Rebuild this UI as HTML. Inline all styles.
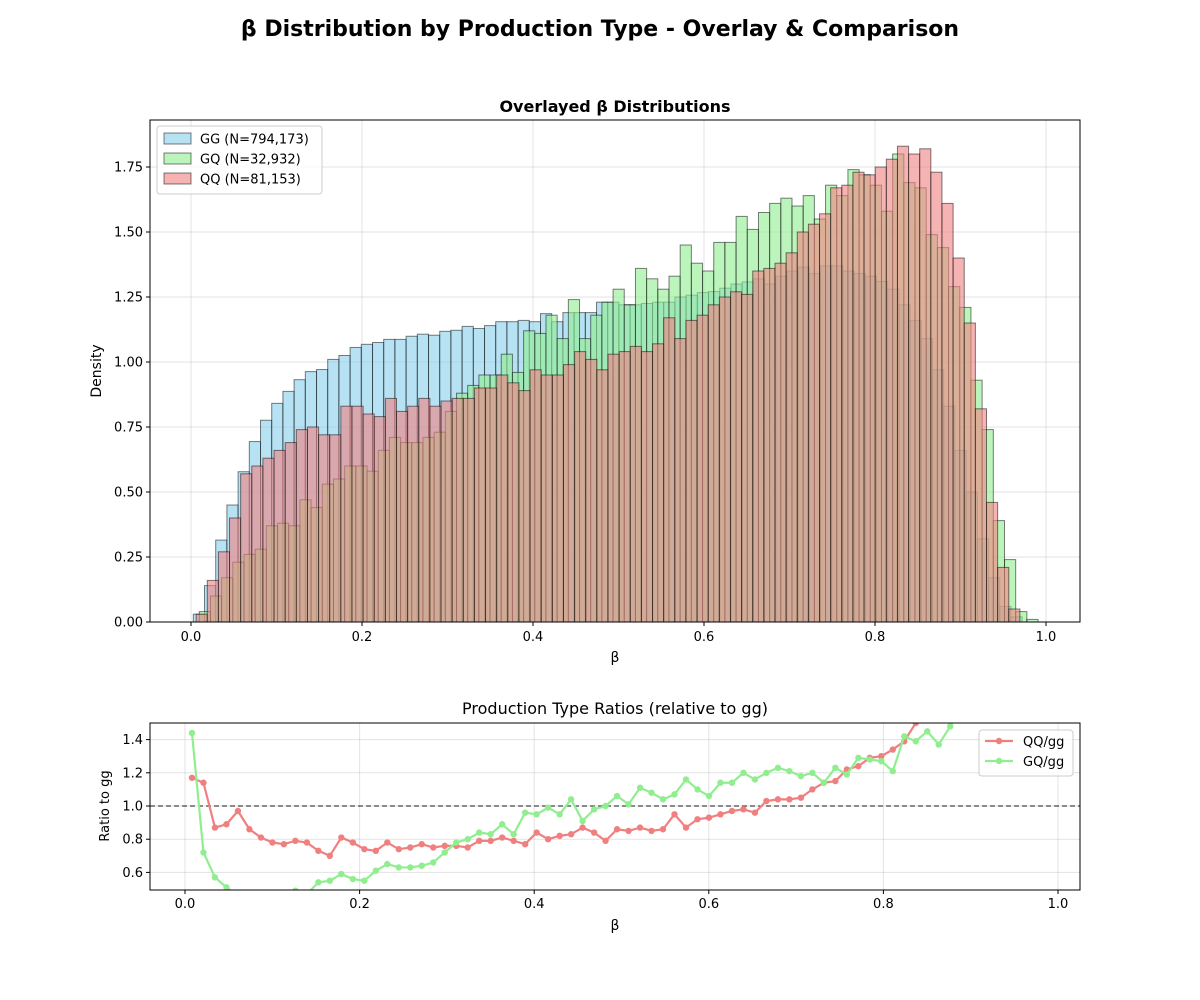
<!DOCTYPE html>
<html><head><meta charset="utf-8">
<style>
body{margin:0;background:#fff;}
svg{display:block;font-family:"DejaVu Sans","Liberation Sans",sans-serif;}
</style></head>
<body>
<svg id="chart" width="1200" height="1000" viewBox="0 0 1200 1000" xmlns="http://www.w3.org/2000/svg">
<rect width="1200" height="1000" fill="#fff"/>
<text x="600" y="36" text-anchor="middle" font-size="22" font-weight="bold">β Distribution by Production Type - Overlay &amp; Comparison</text>
<g id="topPanel"></g>
<g id="botPanel"></g>
</svg>
<script>
// ---- histogram data ----
const ggStart = 0.0027, ggWidth = 0.0131;
const ggValues = [0.03,0.14,0.315,0.45,0.578,0.694,0.776,0.841,0.887,0.932,0.963,0.971,1.01,1.025,1.056,1.068,1.075,1.087,1.087,1.099,1.107,1.103,1.118,1.122,1.137,1.129,
1.14,1.155,1.155,1.16,1.155,1.186,1.155,1.19,1.19,1.19,1.23,1.23,1.22,1.22,1.225,1.23,1.23,1.25,1.257,1.267,1.271,1.284,1.30,1.308,1.32,
1.30,1.33,1.35,1.365,1.34,1.37,1.37,1.35,1.34,1.33,1.31,1.28,1.22,1.16,1.09,0.97,0.83,0.66,0.50,0.32,0.17,0.06,0.02];
const gqStart = 0.0097, gqWidth = 0.01308;
const gqValues = [0.04,0.10,0.17,0.23,0.26,0.28,0.37,0.38,0.37,0.47,0.44,0.53,0.55,0.60,0.60,0.58,0.66,0.71,0.69,0.69,0.71,0.73,0.81,0.88,0.91,
0.95,0.95,1.03,0.96,1.12,1.11,1.18,1.09,1.24,1.09,1.18,1.23,1.28,1.22,1.36,1.32,1.28,1.33,1.45,1.38,1.35,1.46,1.46,1.56,1.51,1.575,
1.61,1.63,1.60,1.64,1.55,1.68,1.64,1.74,1.72,1.68,1.58,1.80,1.69,1.67,1.49,1.44,1.29,1.21,0.93,0.74,0.39,0.24,0.04,0.01];
const qqStart = 0.006, qqWidth = 0.01302;
const qqValues = [0.03,0.16,0.27,0.40,0.57,0.60,0.63,0.66,0.69,0.74,0.75,0.72,0.72,0.83,0.83,0.80,0.79,0.86,0.81,0.83,0.86,0.83,0.85,0.86,0.86,
0.90,0.90,0.95,0.92,0.89,0.97,0.95,0.95,0.99,1.04,1.01,0.97,1.03,1.04,1.06,1.04,1.07,1.17,1.09,1.16,1.18,1.22,1.25,1.27,1.26,1.35,
1.36,1.38,1.42,1.50,1.53,1.57,1.67,1.68,1.73,1.72,1.75,1.78,1.83,1.80,1.82,1.73,1.61,1.40,1.15,0.82,0.46,0.21,0.05];
const xTicks = [0.0,0.2,0.4,0.6,0.8,1.0];
const xTickLabels = ["0.0","0.2","0.4","0.6","0.8","1.0"];
const yTicks = [0,0.25,0.5,0.75,1.0,1.25,1.5,1.75];
const yTickLabels = ["0.00","0.25","0.50","0.75","1.00","1.25","1.50","1.75"];
// ---- ratio data ----
const ratioStart = 0.008, ratioStep = 0.01316;
const qqRatio = [1.17,1.14,0.87,0.89,0.97,0.86,0.81,0.78,0.77,0.79,0.78,0.73,0.70,0.81,0.78,0.74,0.73,0.78,0.74,0.75,0.77,0.75,0.76,0.76,0.75,0.79,0.79,0.81,0.79,0.77,0.84,0.80,0.82,0.83,0.87,0.84,0.79,
0.86,0.85,0.87,0.85,0.86,0.95,0.87,0.92,0.93,0.95,0.97,0.98,0.96,1.03,1.04,1.04,1.05,1.10,1.14,1.15,1.22,1.24,1.29,1.30,1.34,1.39,1.50,1.62,1.80];
const gqRatio = [1.44,0.72,0.57,0.51,0.46,0.42,0.40,0.41,0.45,0.49,0.47,0.54,0.55,0.59,0.56,0.55,0.61,0.65,0.63,0.63,0.64,0.66,0.72,0.78,0.80,0.84,0.83,0.89,0.83,0.96,0.95,0.99,0.95,1.04,0.91,0.98,1.00,
1.06,1.01,1.11,1.08,1.04,1.07,1.16,1.10,1.06,1.14,1.14,1.20,1.16,1.20,1.23,1.21,1.18,1.20,1.14,1.23,1.19,1.29,1.28,1.27,1.21,1.42,1.39,1.45,1.37,1.48,1.60];
const rxTicks = [0.0,0.2,0.4,0.6,0.8,1.0];
const rxTickLabels = ["0.0","0.2","0.4","0.6","0.8","1.0"];
const ryTicks = [0.6,0.8,1.0,1.2,1.4];
const ryTickLabels = ["0.6","0.8","1.0","1.2","1.4"];

(function(){
const NS="http://www.w3.org/2000/svg";
function mk(parent,tag,attrs,text){const e=document.createElementNS(NS,tag);for(const k in attrs)e.setAttribute(k,attrs[k]);if(text!==undefined)e.textContent=text;parent.appendChild(e);return e;}

// ---- top panel ----
const tp=document.getElementById('topPanel');
const T={l:150,r:1080,t:120,b:622};
const tx=v=>191+v*855, ty=v=>622-v*260;
xTicks.forEach(v=>{
  const g=mk(tp,'line',{x1:tx(v),x2:tx(v),y1:T.t,y2:T.b,stroke:'#b0b0b0','stroke-opacity':0.35});
  
  
});
yTicks.forEach(v=>{
  const g=mk(tp,'line',{x1:T.l,x2:T.r,y1:ty(v),y2:ty(v),stroke:'#b0b0b0','stroke-opacity':0.35});
  
  
});
function hist(vals,start,w,color,name){
  const g=mk(tp,'g',{});
  
  
  vals.forEach((v,i)=>{
    const x0=tx(start+i*w), x1=tx(start+(i+1)*w);
    const r=mk(g,'rect',{x:x0,y:ty(v),width:x1-x0,height:ty(0)-ty(v),fill:color,'fill-opacity':0.6,stroke:'#000','stroke-opacity':0.5,'stroke-width':1});
    
    
  });
}
hist(ggValues,ggStart,ggWidth,'#87CEEB','gg-histogram');
hist(gqValues,gqStart,gqWidth,'#90EE90','gq-histogram');
hist(qqValues,qqStart,qqWidth,'#F08080','qq-histogram');
mk(tp,'rect',{x:T.l,y:T.t,width:T.r-T.l,height:T.b-T.t,fill:'none',stroke:'#000','stroke-width':1});
xTicks.forEach((v,i)=>{
  mk(tp,'line',{x1:tx(v),x2:tx(v),y1:T.b,y2:T.b+4,stroke:'#000'});
  const t=mk(tp,'text',{x:tx(v),y:T.b+19,'text-anchor':'middle','font-size':13},xTickLabels[i]);
  
  
});
yTicks.forEach((v,i)=>{
  mk(tp,'line',{x1:T.l-4,x2:T.l,y1:ty(v),y2:ty(v),stroke:'#000'});
  const t=mk(tp,'text',{x:T.l-7,y:ty(v)+4.5,'text-anchor':'end','font-size':13},yTickLabels[i]);
  
  
});
let t=mk(tp,'text',{x:615,y:112,'text-anchor':'middle','font-size':16,'font-weight':'bold'},'Overlayed β Distributions');


t=mk(tp,'text',{x:615,y:662,'text-anchor':'middle','font-size':14},'β');


t=mk(tp,'text',{x:0,y:0,'text-anchor':'middle','font-size':14,transform:'translate(101,371) rotate(-90)'},'Density');


const lg=mk(tp,'g',{});


mk(lg,'rect',{x:157,y:126,width:165,height:68,rx:3,fill:'#fff','fill-opacity':0.8,stroke:'#ccc'});
[['GG (N=794,173)','#87CEEB'],['GQ (N=32,932)','#90EE90'],['QQ (N=81,153)','#F08080']].forEach((it,i)=>{
  const y=133+i*20;
  const p=mk(lg,'rect',{x:164,y:y,width:27,height:11,fill:it[1],'fill-opacity':0.6,stroke:'#000','stroke-opacity':0.5});
  
  
  const tt=mk(lg,'text',{x:200,y:y+10.5,'font-size':13},it[0]);
  
  
});

// ---- bottom panel ----
const bp=document.getElementById('botPanel');
const B={l:150,r:1080,t:723,b:890};
const bx=v=>185+v*873, by=v=>806-(v-1)*166;
mk(bp,'defs',{}).innerHTML='<clipPath id="bclip"><rect x="150" y="723" width="930" height="167"/></clipPath>';
rxTicks.forEach(v=>{
  const g=mk(bp,'line',{x1:bx(v),x2:bx(v),y1:B.t,y2:B.b,stroke:'#b0b0b0','stroke-opacity':0.35});
  
  
});
ryTicks.forEach(v=>{
  const g=mk(bp,'line',{x1:B.l,x2:B.r,y1:by(v),y2:by(v),stroke:'#b0b0b0','stroke-opacity':0.35});
  
  
});
const ref=mk(bp,'line',{x1:B.l,x2:B.r,y1:by(1),y2:by(1),stroke:'#000','stroke-opacity':0.7,'stroke-dasharray':'5,3','stroke-width':1.2});


const cg=mk(bp,'g',{'clip-path':'url(#bclip)'});
function series(vals,color,name){
  const g=mk(cg,'g',{});
  
  
  const pts=vals.map((v,i)=>[bx(ratioStart+i*ratioStep),by(v)]);
  const pl=mk(g,'polyline',{points:pts.map(p=>p.join(',')).join(' '),fill:'none',stroke:color,'stroke-width':2.2});
  
  
  pts.forEach(p=>{
    const c=mk(g,'circle',{cx:p[0],cy:p[1],r:3.2,fill:color});
    
    
  });
}
series(qqRatio,'#F08080','qq-gg-ratio');
series(gqRatio,'#90EE90','gq-gg-ratio');
mk(bp,'rect',{x:B.l,y:B.t,width:B.r-B.l,height:B.b-B.t,fill:'none',stroke:'#000'});
rxTicks.forEach((v,i)=>{
  mk(bp,'line',{x1:bx(v),x2:bx(v),y1:B.b,y2:B.b+4,stroke:'#000'});
  const tt=mk(bp,'text',{x:bx(v),y:B.b+18,'text-anchor':'middle','font-size':13},rxTickLabels[i]);
  
  
});
ryTicks.forEach((v,i)=>{
  mk(bp,'line',{x1:B.l-4,x2:B.l,y1:by(v),y2:by(v),stroke:'#000'});
  const tt=mk(bp,'text',{x:B.l-7,y:by(v)+4.5,'text-anchor':'end','font-size':13},ryTickLabels[i]);
  
  
});
t=mk(bp,'text',{x:615,y:714,'text-anchor':'middle','font-size':16},'Production Type Ratios (relative to gg)');


t=mk(bp,'text',{x:615,y:930,'text-anchor':'middle','font-size':14},'β');


t=mk(bp,'text',{x:0,y:0,'text-anchor':'middle','font-size':13,transform:'translate(109,806) rotate(-90)'},'Ratio to gg');


const bl=mk(bp,'g',{});


mk(bl,'rect',{x:979,y:730,width:94,height:46,rx:3,fill:'#fff','fill-opacity':0.8,stroke:'#ccc'});
[['QQ/gg','#F08080'],['GQ/gg','#90EE90']].forEach((it,i)=>{
  const y=741+i*20;
  mk(bl,'line',{x1:985,x2:1013,y1:y,y2:y,stroke:it[1],'stroke-width':2.2});
  mk(bl,'circle',{cx:999,cy:y,r:3.2,fill:it[1]});
  const tt=mk(bl,'text',{x:1023,y:y+5,'font-size':13},it[0]);
  
  
});
})();
</script>
</body></html>
